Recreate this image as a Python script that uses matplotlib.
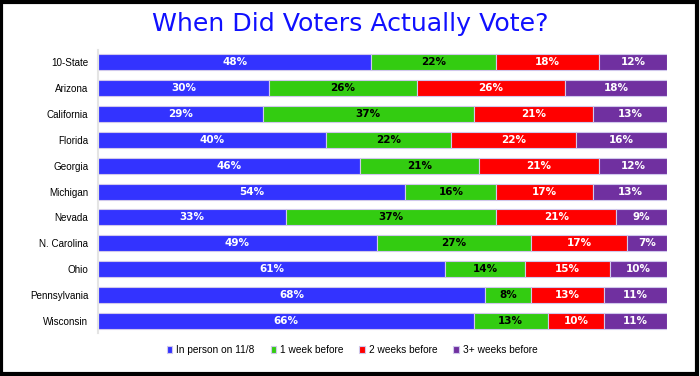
import numpy as np
import matplotlib.pyplot as plt
from matplotlib.patches import Rectangle

states = ["10-State", "Arizona", "California", "Florida", "Georgia", "Michigan",
          "Nevada", "N. Carolina", "Ohio", "Pennsylvania", "Wisconsin"]
in_person = [48, 30, 29, 40, 46, 54, 33, 49, 61, 68, 66]
one_week = [22, 26, 37, 22, 21, 16, 37, 27, 14, 8, 13]
two_weeks = [18, 26, 21, 22, 21, 17, 21, 17, 15, 13, 10]
three_plus = [12, 18, 13, 16, 12, 13, 9, 7, 10, 11, 11]
series_names = ["In person on 11/8", "1 week before", "2 weeks before", "3+ weeks before"]

colors = ["#3333ff", "#33cc11", "#ff0000", "#7030a0"]
text_colors = ["white", "black", "white", "white"]

fig = plt.figure(figsize=(7, 3.76), dpi=100)
ax = fig.add_axes([0.14, 0.114, 0.813, 0.753])

y = np.arange(len(states))
left = np.zeros(len(states))
for vals, c, tc, name in zip([in_person, one_week, two_weeks, three_plus],
                             colors, text_colors, series_names):
    vals = np.array(vals, dtype=float)
    ax.barh(y, vals, left=left, height=0.62, color=c, edgecolor="#d0c8ec",
            linewidth=0.8, label=name)
    for yi, l, v in zip(y, left, vals):
        ax.text(l + v / 2, yi, f"{int(v)}%", ha="center", va="center",
                color=tc, fontsize=7.5, fontweight="bold")
    left += vals

ax.set_xlim(0, 100)
ax.set_ylim(len(states) - 0.53, -0.47)
ax.set_yticks(y)
ax.set_yticklabels(states, fontsize=7.1, family="Liberation Sans")
ax.tick_params(axis="y", length=0, pad=7)
ax.set_xticks([])
for s in ["top", "right", "bottom"]:
    ax.spines[s].set_visible(False)
ax.spines["left"].set_color("#e4e4e4")
ax.spines["left"].set_linewidth(1.5)

fig.text(0.5, 0.935, "When Did Voters Actually Vote?", ha="center", va="center",
         color="#1010ff", fontsize=18.2)

leg = fig.legend(loc="center", bbox_to_anchor=(0.503, 0.069), ncol=4, frameon=False,
                 prop={"family": "Liberation Sans", "size": 7.3},
                 handlelength=0.55, handleheight=0.55,
                 handletextpad=0.35, columnspacing=1.6)

fig.patches.append(Rectangle((0.002, 0.004), 0.994, 0.992, transform=fig.transFigure,
                             fill=False, edgecolor="black", linewidth=3))

fig.savefig("out.png", dpi=100)
